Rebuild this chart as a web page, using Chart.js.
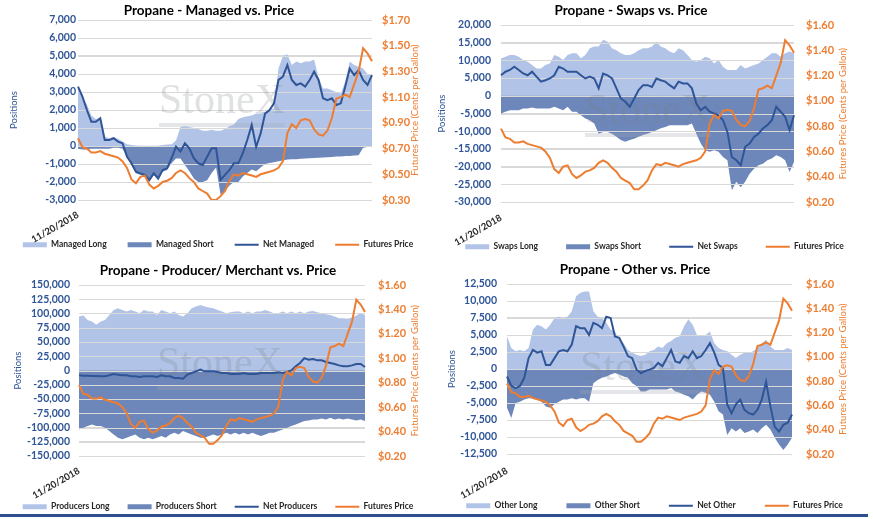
<!DOCTYPE html>
<html>
<head>
<meta charset="utf-8">
<script src="https://cdn.jsdelivr.net/npm/chart.js@4.4.0/dist/chart.umd.min.js"></script>
<style>
  body { margin: 0; background: #fff; width: 873px; height: 519px; overflow: hidden; position: relative; }
  .panel { position: absolute; }
  #rule { position: absolute; left: 0; top: 514px; width: 868px; height: 3px; background: #2e4f8e; }
</style>
</head>
<body>
<div class="panel" style="left:0;top:0;width:436px;height:259px"><canvas id="managed"></canvas></div>
<div class="panel" style="left:436px;top:0;width:437px;height:261px"><canvas id="swaps"></canvas></div>
<div class="panel" style="left:0;top:258px;width:436px;height:263px"><canvas id="producers"></canvas></div>
<div class="panel" style="left:436px;top:258px;width:437px;height:262px"><canvas id="other"></canvas></div>
<div id="rule"></div>
<script>
// dates every ~16 days, only the first one is shown on the axis
const dateLabels = [
  '11/20/2018','12/6/2018','12/22/2018','1/7/2019','1/23/2019','2/8/2019','2/24/2019','3/12/2019','3/28/2019','4/13/2019',
  '4/29/2019','5/15/2019','5/31/2019','6/16/2019','7/2/2019','7/18/2019','8/3/2019','8/19/2019','9/4/2019','9/20/2019',
  '10/6/2019','10/22/2019','11/7/2019','11/23/2019','12/9/2019','12/25/2019','1/10/2020','1/26/2020','2/11/2020','2/27/2020',
  '3/14/2020','3/30/2020','4/15/2020','5/1/2020','5/17/2020','6/2/2020','6/18/2020','7/4/2020','7/20/2020','8/5/2020',
  '8/21/2020','9/6/2020','9/22/2020','10/8/2020','10/24/2020','11/9/2020','11/25/2020','12/11/2020','12/27/2020','1/12/2021',
  '1/28/2021','2/13/2021','3/1/2021','3/17/2021','4/2/2021','4/18/2021','5/4/2021','5/20/2021','6/5/2021','6/21/2021',
  '7/7/2021','7/23/2021','8/8/2021','8/24/2021','9/9/2021','9/25/2021','10/11/2021'
];

const futuresPrice = [
  0.78,0.71,0.70,0.67,0.67,0.68,0.66,0.65,0.64,0.63,
  0.60,0.55,0.46,0.43,0.48,0.49,0.42,0.39,0.41,0.44,
  0.45,0.47,0.51,0.53,0.51,0.47,0.44,0.39,0.37,0.35,
  0.30,0.30,0.33,0.37,0.45,0.50,0.49,0.51,0.50,0.49,
  0.48,0.50,0.51,0.52,0.53,0.55,0.60,0.82,0.89,0.86,
  0.92,0.93,0.92,0.85,0.81,0.80,0.84,0.94,1.09,1.10,
  1.12,1.10,1.20,1.30,1.48,1.44,1.38
];

const managedLong = [
  3300,2700,2300,1700,1500,1550,500,450,500,400,
  250,100,50,30,20,20,20,20,20,50,
  80,100,300,1050,1100,1050,1000,950,850,850,
  900,850,850,950,1100,1200,1500,1600,1650,1700,
  1800,1800,1900,2000,2100,4300,5000,5100,4500,4700,
  4600,4700,4700,4800,3800,3200,3200,3100,3000,2900,
  3600,4700,4500,4400,4300,4000,4000
];
const managedShort = [
  -150,-200,-200,-150,-150,-150,-150,-150,-100,-100,
  -150,-600,-1050,-1520,-1600,-1700,-1980,-1600,-1890,-1430,
  -1330,-960,-700,-700,-1050,-1400,-1800,-2000,-2000,-1900,
  -1500,-1200,-2700,-2500,-2200,-2000,-2000,-1700,-1500,-1300,
  -1400,-1200,-1000,-950,-900,-850,-800,-750,-740,-730,
  -710,-700,-680,-670,-650,-640,-620,-610,-590,-580,
  -560,-550,-530,-510,-100,-50,-30
];
const netManaged = [
  3300,2740,2000,1350,1350,1540,330,330,430,240,
  150,-600,-960,-1430,-1520,-1600,-1890,-1520,-1800,-1330,
  -1240,-680,-40,-310,150,-130,-680,-960,-1050,-600,
  -130,-130,-1890,-1600,-1330,-960,-960,-400,330,1170,
  -40,700,1800,2000,2370,3670,3850,4500,3670,3390,
  3480,3300,3670,4130,3670,2650,2550,2650,2280,2370,
  3300,4300,3940,4220,3670,3390,3940
];

const swapsLong = [
  10570,11000,11500,11500,11000,10100,9600,8700,7700,7700,
  8700,9150,11500,11000,10100,11500,12000,12000,10600,11500,
  13400,13900,13900,15800,15300,13400,12900,12000,11500,11500,
  12000,12900,13400,13400,13900,15300,13900,13400,12500,12000,
  13400,12900,11500,10100,9600,10100,11000,10600,9150,10100,
  8200,7300,7300,7300,8700,7700,8200,8700,9150,10100,
  11000,12000,12000,11000,12000,12500,12000
];
const swapsShort = [
  -5000,-4500,-4100,-4100,-4100,-3600,-3600,-3300,-3600,-3600,
  -3600,-3600,-3100,-3600,-4100,-3100,-4500,-4500,-5500,-6400,
  -6900,-7800,-10700,-10200,-10200,-10700,-11600,-12500,-13000,-12500,
  -12100,-11600,-11100,-10700,-10200,-9700,-9200,-8800,-8300,-8300,
  -8300,-8300,-8300,-7800,-10700,-13500,-15400,-15800,-15400,-15800,
  -17300,-18200,-26700,-24300,-25800,-24300,-22000,-20600,-19600,-19200,
  -18200,-17700,-16800,-17300,-18200,-21500,-18700
];
const netSwaps = [
  5800,6800,7300,8200,7300,6300,5800,6800,5400,4000,
  4400,4900,5800,8200,7700,6800,6800,6800,5800,4900,
  5400,4900,2100,6300,5800,4900,2100,-750,-1700,-3100,
  -750,1600,3000,3000,2500,4900,4400,4000,3000,2100,
  4000,3500,3500,2100,-2200,-4100,-3100,-4500,-5000,-5500,
  -6900,-10200,-17300,-18200,-19600,-14400,-13500,-11600,-10700,-9200,
  -8300,-6900,-3100,-4500,-5900,-9700,-5500
];

const producersLong = [
  94600,96400,88800,85900,80100,85900,88800,97500,106300,109200,
  106300,103400,106300,103400,100500,106300,103400,103400,97500,106300,
  103400,100500,103400,97500,94600,100500,109200,112100,115000,112100,
  110400,109200,106300,103400,100500,102200,103400,103400,100500,103400,
  100500,103400,103400,106300,103400,100500,100500,103400,100500,103400,
  100500,103400,100500,103400,104500,102200,100500,98700,97500,94600,
  91700,91700,90600,92900,96400,100500,97500
];
const producersShort = [
  -103400,-100500,-97500,-94600,-97500,-97500,-100500,-106300,-112100,-117900,
  -120800,-117900,-115000,-112100,-117900,-120800,-117900,-120800,-117900,-115000,
  -117900,-112100,-109200,-112100,-106300,-109200,-112100,-115000,-117900,-117900,
  -115000,-112100,-115000,-112100,-109200,-112100,-109200,-112100,-109200,-112100,
  -109200,-112100,-115000,-112100,-109200,-109200,-106300,-103400,-100500,-97500,
  -94600,-91700,-88800,-87700,-86000,-86000,-84200,-86000,-83000,-86000,
  -84200,-86000,-84200,-86000,-87700,-86000,-88800
];
const netProducers = [
  -8400,-9000,-9000,-9500,-9500,-10000,-10000,-8400,-6100,-7300,
  -8400,-8400,-10000,-10000,-11400,-10000,-10000,-10000,-11400,-8400,
  -10000,-10000,-13100,-13100,-14300,-7300,-4400,-1500,1500,-1500,
  -1500,-1500,-2600,-4400,-4400,-6100,-6100,-6100,-4400,-6100,
  -6100,-6100,-4400,-4400,-4400,-4400,-3200,-4400,-2600,0,
  7300,13100,21800,18900,20100,17800,17800,14900,13100,11400,
  9000,7300,7300,9000,11400,11400,6100
];

const otherLong = [
  4800,3100,2600,2800,2600,3100,5800,6500,6300,5800,
  6500,7500,7700,7500,7700,8500,10700,11200,11400,11400,
  8500,7700,7500,6800,5800,5500,4300,3800,2800,2400,
  2100,1900,2100,2600,2800,3300,3100,3800,4100,4600,
  4800,6300,7300,6500,5000,4800,5000,5500,3800,3100,
  2800,2600,2100,1600,2100,2400,2400,2600,3100,3800,
  4300,3300,2800,2800,2800,3100,2800
];
const otherShort = [
  -5700,-7200,-5000,-4800,-4500,-4300,-4300,-4500,-4800,-5500,
  -5700,-5200,-4800,-4500,-4500,-4300,-4500,-4300,-4300,-4800,
  -2100,-1600,-1300,-1100,-800,-600,-800,-1100,-1300,-2100,
  -2500,-3300,-3300,-3000,-3000,-3000,-3000,-3000,-2800,-3300,
  -3500,-3800,-4000,-4500,-3800,-3300,-3500,-3800,-4800,-6200,
  -6700,-9700,-8700,-9200,-8700,-9400,-9200,-8900,-9400,-8700,
  -8200,-8900,-10100,-11100,-11900,-11100,-10100
];
const netOther = [
  -1100,-2500,-2800,-2500,-1300,1600,2800,2400,2600,600,
  600,1600,2600,2800,2600,3600,6300,6000,6000,5000,
  6800,6500,6000,7700,7500,4800,4600,3300,1900,1600,
  -100,-600,-300,-100,150,900,400,1600,2800,1100,
  900,1900,1600,2600,1600,1900,2800,3800,2400,600,
  150,-5200,-6500,-5200,-4500,-6000,-6500,-6700,-6000,-4500,
  -1900,-5500,-8500,-9200,-8200,-7900,-6700
];

const LONG_FILL = '#b1c4e8';
const SHORT_FILL = '#6d87ba';
const NET_BLUE = '#2f5597';
const ORANGE = '#ed7d31';
const LEGEND_FONT = 8.5;

Chart.defaults.font.family = 'Lato, "Noto Sans", sans-serif';
Chart.defaults.color = '#262626';

// gridlines and StoneX mark go over the areas but under the lines;
// chart title, first date and the secondary axis title are drawn by hand
const panelDecor = {
  id: 'panelDecor',
  afterDatasetDraw(chart, args, o) {
    if (args.index !== 1) return;
    const { ctx, chartArea: a, scales: { y } } = chart;
    ctx.save();
    ctx.strokeStyle = '#d9d9d9';
    ctx.lineWidth = 1;
    y.ticks.forEach(t => {
      const py = Math.round(y.getPixelForValue(t.value)) + 0.5;
      ctx.beginPath();
      ctx.moveTo(a.left, py);
      ctx.lineTo(a.right, py);
      ctx.stroke();
    });
    ctx.font = '42px "Liberation Serif", serif';
    ctx.fillStyle = 'rgba(120,128,140,0.24)';
    ctx.textAlign = 'center';
    ctx.textBaseline = 'alphabetic';
    ctx.fillText('StoneX', o.markX, o.markY);
    ctx.fillStyle = 'rgba(160,166,176,0.28)';
    ctx.fillRect(o.markX - 63, o.markY + 10, 126, 4);
    ctx.restore();
  },
  afterDraw(chart, args, o) {
    const { ctx, chartArea: a, scales: { x } } = chart;
    ctx.save();
    ctx.fillStyle = '#000';
    ctx.font = 'bold 13.5px Lato';
    ctx.textAlign = 'center';
    ctx.textBaseline = 'middle';
    ctx.fillText(o.title, o.titleX, o.titleY);

    ctx.save();
    ctx.translate(x.getPixelForValue(0), a.bottom + o.dateDy);
    ctx.rotate(-Math.PI / 6);
    ctx.textAlign = 'right';
    ctx.fillStyle = '#262626';
    ctx.font = 'bold 9.5px Lato';
    ctx.fillText(dateLabels[0], 0, 0);
    ctx.restore();

    ctx.translate(o.priceTitleX, (a.top + a.bottom) / 2);
    ctx.rotate(-Math.PI / 2);
    ctx.fillStyle = ORANGE;
    ctx.font = '9.5px Lato';
    ctx.fillText('Futures Price (Cents per Gallon)', 0, 0);
    ctx.restore();
  }
};

function makePanel(id, p) {
  const el = document.getElementById(id);
  const W = el.parentNode.clientWidth;
  const H = el.parentNode.clientHeight;
  const legendH = LEGEND_FONT + p.legendPad + 10;
  const area = (label, data, color, order) => ({
    label, data, yAxisID: 'y', backgroundColor: color, borderColor: 'transparent',
    borderWidth: 0, fill: 'origin', pointRadius: 0, pointStyle: 'rect', tension: 0, order
  });
  const line = (label, data, color, axis, order) => ({
    label, data, yAxisID: axis, borderColor: color, backgroundColor: color,
    borderWidth: 2, fill: false, pointRadius: 0, pointStyle: 'line', tension: 0, order
  });
  return new Chart(el, {
    type: 'line',
    data: {
      labels: dateLabels,
      datasets: [
        area(p.names[0], p.long, LONG_FILL, 4),
        area(p.names[1], p.short, SHORT_FILL, 3),
        line(p.names[2], p.net, NET_BLUE, 'y', 2),
        line('Futures Price', futuresPrice, ORANGE, 'y1', 1)
      ]
    },
    plugins: [panelDecor],
    options: {
      responsive: true,
      maintainAspectRatio: false,
      animation: false,
      events: [],
      layout: { padding: { top: p.plot.t, left: 0, right: 0, bottom: 0 } },
      plugins: {
        title: { display: false },
        tooltip: { enabled: false },
        legend: {
          position: 'bottom',
          labels: {
            usePointStyle: true, pointStyleWidth: 24, boxHeight: 5,
            padding: p.legendPad, color: '#262626',
            font: { size: LEGEND_FONT, weight: 'bold' },
            sort: (a, b) => a.datasetIndex - b.datasetIndex
          }
        },
        panelDecor: {
          title: p.title, titleX: p.titleX, titleY: p.titleY, dateDy: p.dateDy,
          priceTitleX: p.priceTitleX, markX: p.markX, markY: p.markY
        }
      },
      scales: {
        x: {
          grid: { display: false, drawTicks: false },
          border: { display: false },
          ticks: { display: false },
          afterFit: s => { s.height = H - legendH - p.plot.b; }
        },
        y: {
          position: 'left', min: p.yMin, max: p.yMax,
          grid: { color: '#d9d9d9', drawTicks: false },
          border: { display: false },
          ticks: {
            stepSize: p.yStep, autoSkip: false, padding: p.leftTickPad,
            color: NET_BLUE, font: { size: 10.5, weight: 'bold' },
            callback: v => v.toLocaleString('en-US')
          },
          title: {
            display: true, text: 'Positions', color: NET_BLUE,
            font: { size: 9.5 }, padding: { top: p.posTitleX - 5.7, bottom: 0 }
          },
          afterFit: s => { s.width = p.plot.l; }
        },
        y1: {
          position: 'right', min: p.pMin, max: p.pMax,
          grid: { display: false, drawTicks: false },
          border: { display: false },
          ticks: {
            stepSize: 0.2, autoSkip: false, padding: p.rightTickPad,
            color: ORANGE, font: { size: 11, weight: 'bold' },
            callback: v => '$' + v.toFixed(2)
          },
          afterFit: s => { s.width = W - p.plot.r; }
        }
      }
    }
  });
}

makePanel('managed', {
  title: 'Propane - Managed vs. Price', titleX: 209, titleY: 11,
  names: ['Managed Long', 'Managed Short', 'Net Managed'],
  long: managedLong, short: managedShort, net: netManaged,
  yMin: -3000, yMax: 7000, yStep: 1000, pMin: 0.3, pMax: 1.7,
  plot: { l: 78, r: 372, t: 20, b: 200 },
  legendPad: 21, leftTickPad: 2, rightTickPad: 10, dateDy: 14,
  posTitleX: 13.5, priceTitleX: 415, markX: 222, markY: 113
});
makePanel('swaps', {
  title: 'Propane - Swaps vs. Price', titleX: 195, titleY: 11,
  names: ['Swaps Long', 'Swaps Short', 'Net Swaps'],
  long: swapsLong, short: swapsShort, net: netSwaps,
  yMin: -30000, yMax: 20000, yStep: 5000, pMin: 0.2, pMax: 1.6,
  plot: { l: 65, r: 358, t: 25, b: 202 },
  legendPad: 28, leftTickPad: 10, rightTickPad: 12, dateDy: 15,
  posTitleX: 6, priceTitleX: 407, markX: 212, markY: 123
});
makePanel('producers', {
  title: 'Propane - Producer/ Merchant vs. Price', titleX: 218, titleY: 12.7,
  names: ['Producers Long', 'Producers Short', 'Net Producers'],
  long: producersLong, short: producersShort, net: netProducers,
  yMin: -150000, yMax: 150000, yStep: 25000, pMin: 0.2, pMax: 1.6,
  plot: { l: 79, r: 365, t: 27, b: 198 },
  legendPad: 18, leftTickPad: 9, rightTickPad: 13, dateDy: 14,
  posTitleX: 18, priceTitleX: 415, markX: 220, markY: 118
});
makePanel('other', {
  title: 'Propane - Other vs. Price', titleX: 199, titleY: 11.7,
  names: ['Other Long', 'Other Short', 'Net Other'],
  long: otherLong, short: otherShort, net: netOther,
  yMin: -12500, yMax: 12500, yStep: 2500, pMin: 0.2, pMax: 1.6,
  plot: { l: 71, r: 356, t: 26, b: 196 },
  legendPad: 29, leftTickPad: 10, rightTickPad: 14, dateDy: 16,
  posTitleX: 16, priceTitleX: 407, markX: 207, markY: 122
});
</script>
</body>
</html>
